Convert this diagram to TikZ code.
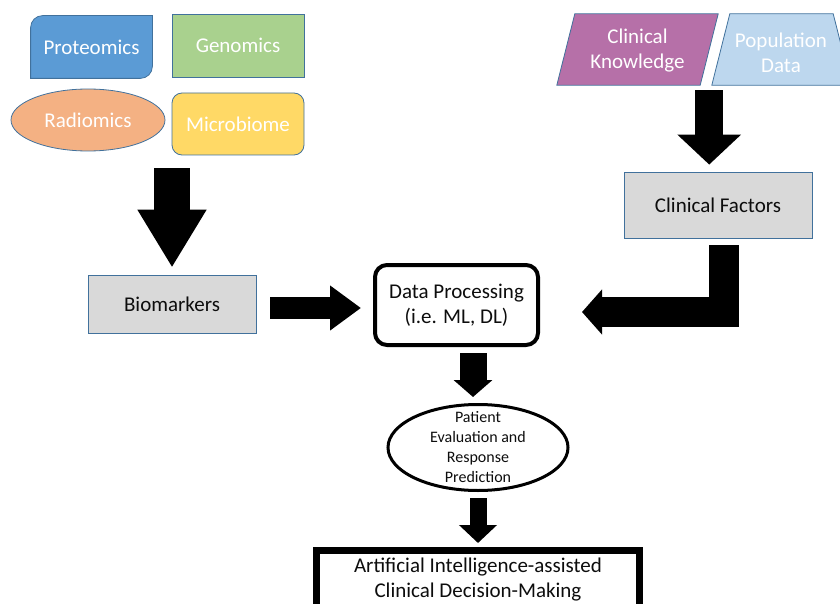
\documentclass[tikz,border=0pt]{standalone}
\usepackage{fontspec}
\setmainfont{Carlito}
\usetikzlibrary{arrows.meta,positioning,calc,shapes.geometric,backgrounds}
\definecolor{omicsBlue}{RGB}{91,155,213}
\definecolor{omicsGreen}{RGB}{169,209,142}
\definecolor{omicsOrange}{RGB}{244,177,131}
\definecolor{omicsYellow}{RGB}{255,217,102}
\definecolor{clinPurple}{RGB}{182,112,168}
\definecolor{popBlue}{RGB}{189,215,238}
\definecolor{boxGrey}{RGB}{217,217,217}
\definecolor{edgeBlue}{RGB}{65,113,156}
\definecolor{inkText}{RGB}{13,13,13}

\tikzset{
  bigtext/.style={font=\fontsize{21pt}{25pt}\selectfont, align=center, text=inkText},
  omicsbox/.style={bigtext, text=white, draw=edgeBlue, line width=0.8pt, minimum width=132pt, minimum height=62pt, inner sep=0pt},
  greybox/.style={bigtext, fill=boxGrey, draw=edgeBlue, line width=0.8pt, inner sep=0pt},
  blockarrow/.style n args={3}{line width=#1, line join=miter, -{Triangle[width=#2, length=#3]}},
}

\begin{document}
\begin{tikzpicture}[x=1pt, y=-1pt]
\useasboundingbox (0,0) rectangle (840,604);
\clip (0,0) rectangle (840,604);

% omics sources
\node[omicsbox, draw=none, minimum width=121pt] (proteo) at (91.5,47) {Proteomics};
\node[omicsbox, fill=omicsGreen, minimum height=63pt] (genom) at (238,45.5) {Genomics};
\node[omicsbox, ellipse, fill=omicsOrange, minimum width=154pt] (radio) at (88,120) {Radiomics};
\node[omicsbox, fill=omicsYellow, rounded corners=10pt] (micro) at (238,124) {Microbiome};

% clinical sources
\node[bigtext, text=white, minimum width=143pt, minimum height=71pt, inner sep=0pt] (clinknow) at (637.5,51) {Clinical\\Knowledge};
\node[bigtext, text=white, minimum width=121pt, minimum height=71pt, inner sep=0pt] (popdata) at (781,52.5) {Population\\Data};

\begin{scope}[on background layer]
  \draw[edgeBlue, fill=omicsBlue, line width=0.8pt] (proteo.south west) -- ([yshift=-12pt]proteo.north west)
    arc[start angle=180, end angle=90, radius=12pt] -- (proteo.north east) -- ([yshift=12pt]proteo.south east)
    arc[start angle=0, end angle=-90, radius=12pt] -- cycle;
  \draw[edgeBlue, fill=clinPurple, line width=0.8pt] ([xshift=9pt, yshift=1.5pt]clinknow.north west) -- ([xshift=9pt, yshift=1.5pt]clinknow.north east)
    -- ([xshift=-9pt, yshift=1.5pt]clinknow.south east) -- ([xshift=-9pt, yshift=1.5pt]clinknow.south west) -- cycle;
  \draw[edgeBlue, fill=popBlue, line width=0.8pt] ([xshift=9.5pt, yshift=3pt]popdata.north west) -- ([xshift=-8.5pt, yshift=3pt]popdata.north east)
    -- ([xshift=9.5pt, yshift=3pt]popdata.south east) -- ([xshift=-8.5pt, yshift=3pt]popdata.south west) -- cycle;
\end{scope}

% middle row
\node[greybox, minimum width=168pt, minimum height=58pt] (biom) at (172,304) {Biomarkers};
\node[greybox, minimum width=188pt, minimum height=66pt] (cf) at (718,205) {Clinical Factors};
\node[bigtext, draw, line width=4pt, rounded corners=12pt, minimum width=163pt, minimum height=80pt, fill=white] (dp) at (456.5,305) {Data Processing\\(i.e. ML, DL)};

% outcome
\node[ellipse, draw, line width=3pt, minimum width=180pt, minimum height=86pt, inner sep=0pt] (pat) at (478,447.5) {};
\node[align=center, text=inkText, font=\fontsize{16pt}{20pt}\selectfont] (pattext) at (pat) {Patient\\Evaluation and\\Response\\Prediction};
\node[draw, line width=7pt, minimum width=323pt, minimum height=58pt] (ai) at (478,579.5) {};
\node[bigtext] (aitext) at (478,580) {Artificial Intelligence-assisted\\Clinical Decision-Making};

% block arrows
\draw[blockarrow={36pt}{65pt}{58pt}] ([yshift=-13pt]micro.south -| biom.north) -- ([yshift=7pt]biom.north);
\draw[blockarrow={22pt}{43pt}{31pt}] ([xshift=14pt, yshift=-4pt]biom.east) -- ([xshift=-12pt, yshift=-3pt]dp.west);
\draw[blockarrow={28pt}{62pt}{30pt}] ([yshift=-3.5pt]clinknow.south east) -- ([yshift=7pt]cf.north -| clinknow.south east);
\draw[blockarrow={30pt}{44pt}{20pt}] ([xshift=6pt, yshift=-7pt]cf.south) |- ([xshift=42pt, yshift=-7pt]dp.east);
\draw[blockarrow={27pt}{38pt}{17pt}] ([xshift=-5pt, yshift=-6pt]dp.south -| pat.north) -- ([xshift=-5pt, yshift=6pt]pat.north);
\draw[blockarrow={17pt}{37pt}{18pt}] ([yshift=-6pt]pat.south) -- ([yshift=4pt]ai.north);
\end{tikzpicture}
\end{document}
